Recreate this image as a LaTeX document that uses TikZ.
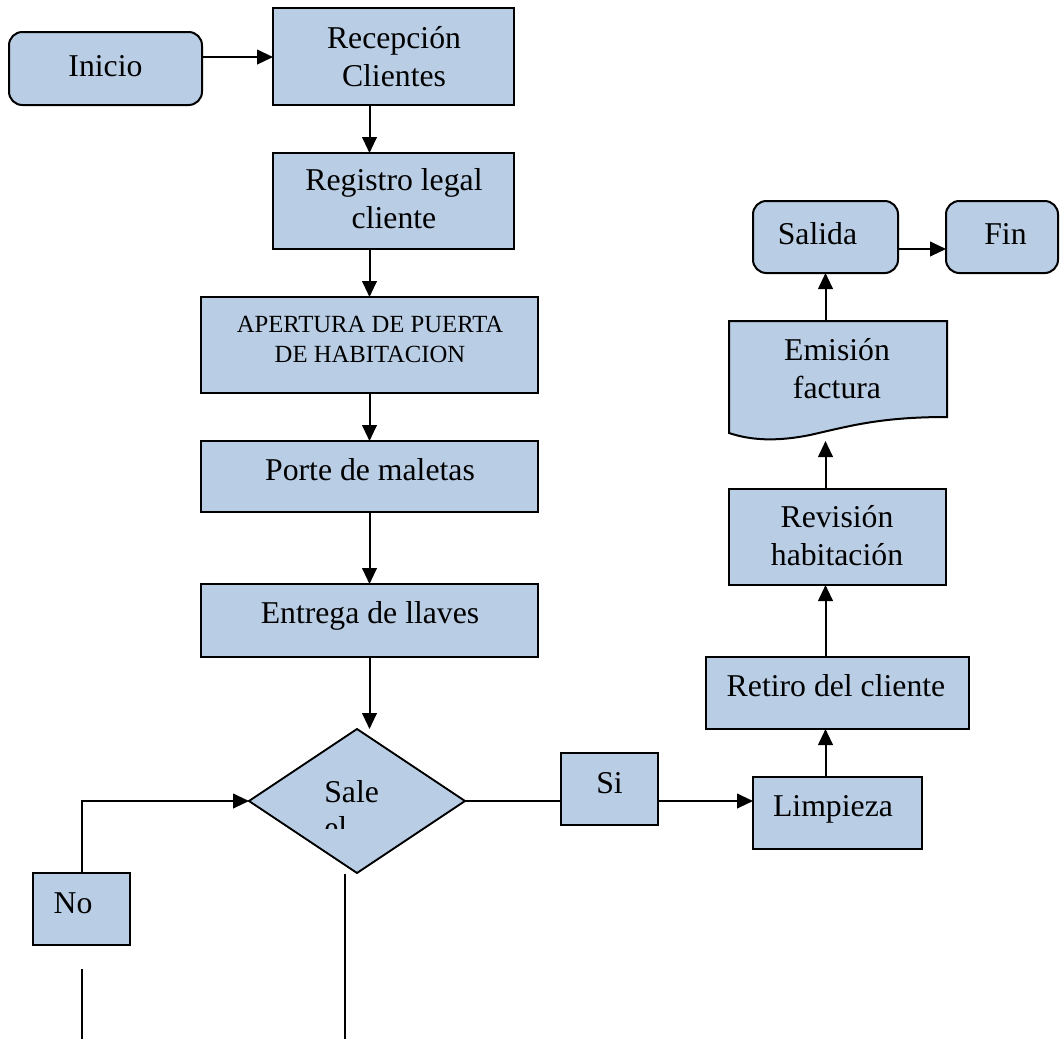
\documentclass[tikz,border=0pt]{standalone}
\usepackage{fontspec}
\setmainfont{Liberation Serif}
\usetikzlibrary{shapes.geometric,arrows.meta}
\definecolor{boxfill}{HTML}{B9CDE5}
\newlength\pxu
\setlength\pxu{0.75pt}
\tikzset{
  shp/.style={draw=black, line width=1.5pt, fill=boxfill, inner sep=0pt, outer sep=0pt},
  wh/.style 2 args={minimum width=#1*\pxu, minimum height=#2*\pxu},
  boxn/.style={shp, rectangle},
  rnd/.style={shp, rectangle, rounded corners=10pt},
  lbl/.style={inner sep=0pt, anchor=base, font=\fontsize{23.8}{28}\selectfont},
  lbls/.style={inner sep=0pt, anchor=base, font=\fontsize{18.5}{22}\selectfont},
  conn/.style={line width=1.5pt},
  arr/.style={conn, -{Triangle[length=12pt,width=11pt]}},
}
\begin{document}
\begin{tikzpicture}[x=0.75pt,y=-0.75pt]
\fill[white] (0,0) rectangle (1060,1039);
\useasboundingbox (0,0) rectangle (1060,1039);

% shapes
\node[rnd, wh={193}{73}] (ini) at (105.5,68.5) {};
\node[boxn, wh={241}{97}] (rec) at (393.5,56.5) {};
\node[boxn, wh={241}{96}] (reg) at (393.5,201) {};
\node[boxn, wh={337}{96}] (ape) at (369.5,345) {};
\node[boxn, wh={337}{71}] (por) at (369.5,476.5) {};
\node[boxn, wh={337}{73}] (ent) at (369.5,620.5) {};
\node[shp, diamond, wh={216}{144}, line width=1.4pt] (dia) at (357,801) {};
\node[boxn, wh={97}{72}] (si) at (609.5,789) {};
\node[boxn, wh={169}{72}] (lim) at (837.5,813) {};
\node[boxn, wh={263}{72}] (ret) at (837.5,693) {};
\node[boxn, wh={217}{96}] (rev) at (837.5,537) {};
\node[inner sep=0pt, outer sep=0pt, wh={218}{118}] (emi) at (838,380) {};
\draw[shp] (729,321) -- (947,321) -- (947,417)
  .. controls (880,417) and (850,426) .. (810,435)
  .. controls (775,442) and (750,440) .. (729,433) -- cycle;
\node[rnd, wh={145}{72}] (sal) at (825.5,237) {};
\node[rnd, wh={112}{72}] (fin) at (1002,237) {};
\node[boxn, wh={97}{72}] (no) at (81.5,909) {};

% texts
\node[lbl] (tini) at (105.5,76) {Inicio};
\node[lbl] (trec1) at (394,48) {Recepción};
\node[lbl] (trec2) at (394,86) {Clientes};
\node[lbl] (treg1) at (394,190) {Registro legal};
\node[lbl] (treg2) at (394,228) {cliente};
\node[lbls] (tape1) at (370,332) {APERTURA DE PUERTA};
\node[lbls] (tape2) at (370,362) {DE HABITACION};
\node[lbl] (tpor) at (370,480) {Porte de maletas};
\node[lbl] (tent) at (370,623) {Entrega de llaves};
\begin{scope}
  \clip (300,775) rectangle (430,828);
  \node[lbl, anchor=base west] (tdia1) at (324,802) {Sale};
  \node[lbl, anchor=base west] (tdia2) at (324,838) {el};
\end{scope}
\node[lbl] (tsi) at (609.5,793) {Si};
\node[lbl] (tlim) at (833,816) {Limpieza};
\node[lbl] (tret) at (836,696) {Retiro del cliente};
\node[lbl] (trev1) at (837,527) {Revisión};
\node[lbl] (trev2) at (837,565) {habitación};
\node[lbl] (temi1) at (837,360) {Emisión};
\node[lbl] (temi2) at (837,398) {factura};
\node[lbl] (tsal) at (817.5,244) {Salida};
\node[lbl] (tfin) at (1005.5,244) {Fin};
\node[lbl] (tno) at (73,913) {No};

% connectors
\coordinate (a1) at ([yshift=8.6pt]ini.east);
\draw[arr] (a1) -- (a1 -| rec.west);
\draw[arr] (rec.south -| ape.center) -- (reg.north -| ape.center);
\draw[arr] (reg.south -| ape.center) -- (ape.north);
\draw[arr] (ape.south) -- (por.north);
\draw[arr] (por.south) -- (ent.north);
\draw[arr] (ent.south) -- (ent.south |- dia.north);
\draw[conn] (dia.east) -- (dia.east -| si.west);
\draw[arr] (si.east |- dia.east) -- (lim.west |- dia.east);
\draw[arr] (lim.north -| sal.south) -- (ret.south -| sal.south);
\draw[arr] (ret.north -| sal.south) -- (rev.south -| sal.south);
\coordinate (emib) at (825.5,441);
\draw[arr] (rev.north -| sal.south) -- (emib);
\draw[arr] (emi.north -| sal.south) -- (sal.south);
\coordinate (a2) at ([yshift=-9pt]sal.east);
\draw[arr] (a2) -- (a2 -| fin.west);
\draw[arr] (no.north) |- (dia.west);
\coordinate (nb1) at (81.5,969);
\coordinate (nb2) at (81.5,1039);
\draw[conn] (nb1) -- (nb2);
\coordinate (db1) at (345,874);
\coordinate (db2) at (345,1039);
\draw[conn] (db1) -- (db2);
\end{tikzpicture}
\end{document}
